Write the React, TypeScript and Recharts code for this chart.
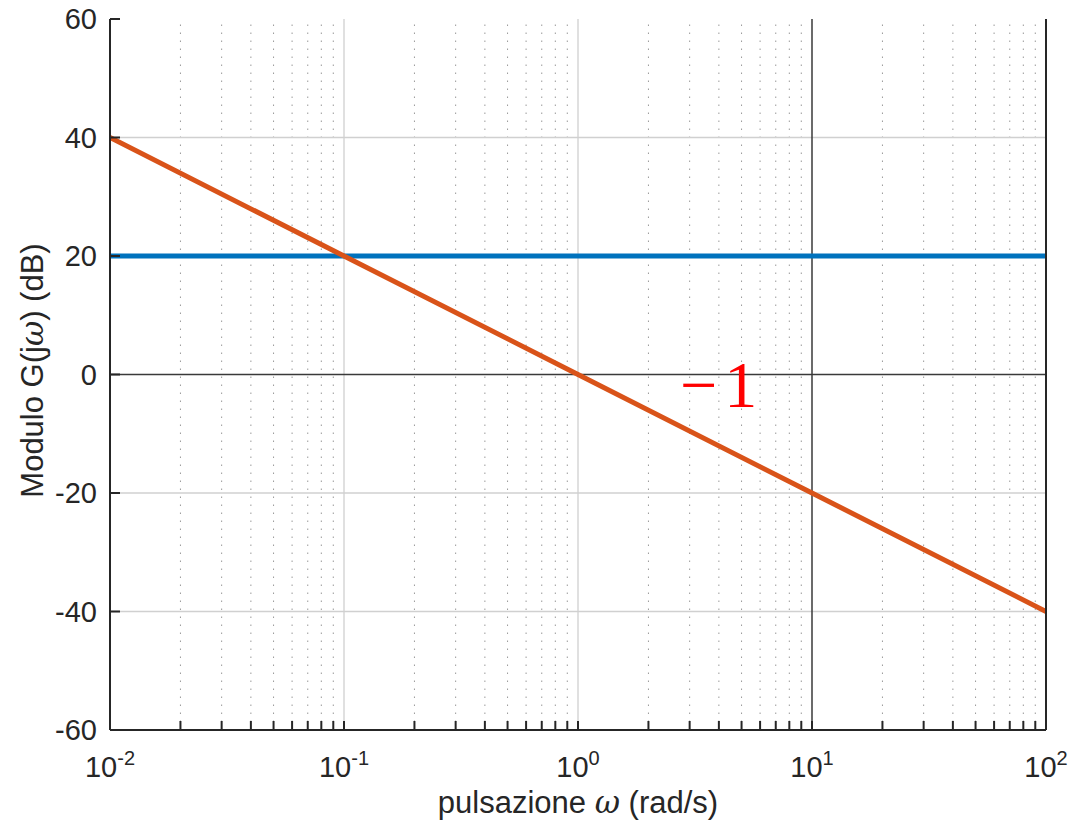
import React from 'react';
import { LineChart, Line, XAxis, YAxis, ReferenceLine, ReferenceDot } from 'recharts';

// pulsazioni (rad/s) e moduli
const omega = [0.01, 0.1, 1, 10, 100];
const moduloCostante = [20, 20, 20, 20, 20];
const asintotoMenoUno = [40, 20, 0, -20, -40];

const decadi = [0.01, 0.1, 1, 10, 100];
const esponenti = ['-2', '-1', '0', '1', '2'];
const multipliMinori = [2, 3, 4, 5, 6, 7, 8, 9];
const yTicks = [-60, -40, -20, 0, 20, 40, 60];
const yGrid = [-40, -20, 20, 40];

const data = omega.map((w, i) => ({ w, costante: moduloCostante[i], asintoto: asintotoMenoUno[i] }));

const minori: number[] = [];
decadi.slice(0, -1).forEach(d => multipliMinori.forEach(m => minori.push(+(d * m).toPrecision(3))));
const xTicks = [...decadi, ...minori].sort((a, b) => a - b);

const FONT = '"Liberation Sans", Arial, sans-serif';
const TXT = '#262626';

const BottomTick = (props: any) => {
  const { x, y, payload } = props;
  const idx = decadi.findIndex(d => Math.abs(d - payload.value) < 1e-9);
  return (
    <g>
      <line x1={x} y1={y} x2={x} y2={y - 9} stroke={TXT} strokeWidth={2} />
      {idx >= 0 && (
        <text x={x} y={y + 47} textAnchor="middle" fontFamily={FONT} fontSize={29} fill={TXT}>
          <tspan>10</tspan>
          <tspan dy={-12} fontSize={20}>{esponenti[idx]}</tspan>
        </text>
      )}
    </g>
  );
};

const TopTick = (props: any) => {
  const { x, y } = props;
  return <line x1={x} y1={y} x2={x} y2={y + 9} stroke={TXT} strokeWidth={2} />;
};

const LeftTick = (props: any) => {
  const { x, y, payload } = props;
  return (
    <g>
      <line x1={x} y1={y} x2={x + 10} y2={y} stroke={TXT} strokeWidth={2} />
      <text x={x - 13} y={y} dy={10} textAnchor="end" fontFamily={FONT} fontSize={29} fill={TXT}>
        {payload.value}
      </text>
    </g>
  );
};

const RightTick = (props: any) => {
  const { x, y } = props;
  return <line x1={x} y1={y} x2={x - 10} y2={y} stroke={TXT} strokeWidth={2} />;
};

const XTitle = (props: any) => {
  const { x, y, width } = props.viewBox;
  return (
    <text x={x + width / 2} y={y + 83} textAnchor="middle" fontFamily={FONT} fontSize={31} fill={TXT}>
      pulsazione <tspan fontFamily="DejaVu Serif" fontStyle="italic">ω</tspan> (rad/s)
    </text>
  );
};

const YTitle = (props: any) => {
  const { y, height } = props.viewBox;
  const cy = y + height / 2 - 4;
  return (
    <text x={43} y={cy} transform={`rotate(-90 43 ${cy})`} textAnchor="middle" fontFamily={FONT} fontSize={31} fill={TXT}>
      Modulo G(j<tspan fontFamily="DejaVu Serif" fontStyle="italic">ω</tspan>) (dB)
    </text>
  );
};

const Etichetta = (props: any) => {
  const { cx, cy } = props;
  return (
    <text x={cx} y={cy} dy={21} fontFamily='"Liberation Serif", "Times New Roman", serif' fontSize={66} fill="#ff0000">
      <tspan>−</tspan>
      <tspan dx={7}>1</tspan>
    </text>
  );
};

export default function App() {
  return (
    <div style={{ position: 'absolute', left: 0, top: 0, background: '#fff' }}>
      <LineChart width={1073} height={825} data={data} margin={{ top: 19, right: 0, bottom: 0, left: 0 }}>
        <XAxis
          dataKey="w"
          type="number"
          scale="log"
          domain={[0.01, 100]}
          ticks={xTicks}
          interval={0}
          allowDataOverflow
          height={95}
          tickSize={0}
          tickMargin={0}
          tick={<BottomTick />}
          axisLine={{ stroke: TXT, strokeWidth: 2 }}
          label={{ content: <XTitle /> }}
        />
        <XAxis
          xAxisId="top"
          orientation="top"
          dataKey="w"
          type="number"
          scale="log"
          domain={[0.01, 100]}
          ticks={xTicks}
          interval={0}
          allowDataOverflow
          height={0}
          tickSize={0}
          tickMargin={0}
          tick={<TopTick />}
          axisLine={{ stroke: TXT, strokeWidth: 2 }}
        />
        <YAxis
          type="number"
          domain={[-60, 60]}
          ticks={yTicks}
          interval={0}
          width={110}
          tickSize={0}
          tickMargin={0}
          tick={<LeftTick />}
          axisLine={{ stroke: TXT, strokeWidth: 2 }}
          label={{ content: <YTitle /> }}
        />
        <YAxis
          yAxisId="right"
          orientation="right"
          type="number"
          domain={[-60, 60]}
          ticks={yTicks}
          interval={0}
          width={27}
          tickSize={0}
          tickMargin={0}
          tick={<RightTick />}
          axisLine={{ stroke: TXT, strokeWidth: 2 }}
        />
        {minori.map(v => (
          <ReferenceLine key={'m' + v} x={v} stroke="#9a9a9a" strokeWidth={1} strokeDasharray="1.5 6.5" />
        ))}
        {[0.1, 1].map(v => (
          <ReferenceLine key={'M' + v} x={v} stroke="#d6d6d6" strokeWidth={1.5} />
        ))}
        {yGrid.map(v => (
          <ReferenceLine key={'h' + v} y={v} stroke="#d0d0d0" strokeWidth={1.5} />
        ))}
        <ReferenceLine y={0} stroke="#3a3a3a" strokeWidth={1.5} />
        <ReferenceLine x={10} stroke="#3a3a3a" strokeWidth={1.5} />
        <Line dataKey="costante" stroke="#0072BD" strokeWidth={5} dot={false} isAnimationActive={false} />
        <Line dataKey="asintoto" stroke="#D95319" strokeWidth={5} dot={false} isAnimationActive={false} />
        <ReferenceDot x={2.73} y={-2} r={0} shape={<Etichetta />} />
      </LineChart>
    </div>
  );
}
